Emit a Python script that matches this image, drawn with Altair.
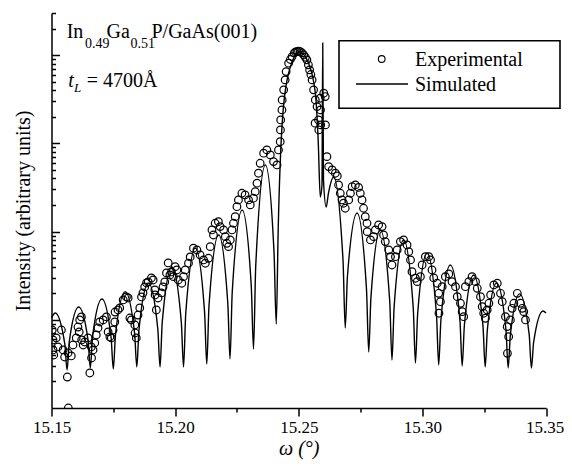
import altair as alt
import numpy as np
import pandas as pd

# ---- data (omega in degrees, intensity as log10) ----
sim_x = [15.1500, 15.1515, 15.1554,
         15.1563, 15.1572, 15.1610, 15.1648,
         15.1657, 15.1666, 15.1704, 15.1741,
         15.1750, 15.1759, 15.1798, 15.1836,
         15.1845, 15.1854, 15.1892, 15.1930,
         15.1939, 15.1948, 15.1987, 15.2025,
         15.2034, 15.2043, 15.2082, 15.2119,
         15.2128, 15.2137, 15.2176, 15.2213,
         15.2222, 15.2231, 15.2271, 15.2308,
         15.2317, 15.2326, 15.2365, 15.2400,
         15.2409, 15.2417, 15.2437, 15.2466, 15.2503, 15.2539, 15.2567, 15.2579,
         15.2587, 15.2594, 15.2597, 15.2600,
         15.2611, 15.2620, 15.2641, 15.2679,
         15.2688, 15.2697, 15.2736, 15.2774,
         15.2783, 15.2792, 15.2830, 15.2868,
         15.2877, 15.2886, 15.2924, 15.2963,
         15.2972, 15.2981, 15.3019, 15.3057,
         15.3066, 15.3075, 15.3113, 15.3152,
         15.3161, 15.3170, 15.3207, 15.3245,
         15.3254, 15.3263, 15.3300, 15.3338,
         15.3347, 15.3356, 15.3393, 15.3432,
         15.3441, 15.3450, 15.3488, 15.3500]
sim_log10 = [1.020, 1.077, 0.721,
             0.431, 0.753, 1.145, 0.765,
             0.454, 0.805, 1.236, 0.799,
             0.442, 0.837, 1.319, 0.849,
             0.465, 0.893, 1.417, 0.893,
             0.465, 0.975, 1.599, 0.975,
             0.465, 1.073, 1.814, 1.091,
             0.499, 1.156, 1.961, 1.188,
             0.556, 1.315, 2.245, 1.379,
             0.669, 1.608, 2.755, 1.764,
             0.952, 2.041, 3.379, 3.866, 4.036, 3.912, 3.571, 3.005,
             2.392, 2.528, 4.138, 2.585,
             2.279, 2.432, 2.619, 1.678,
             0.907, 1.494, 2.211, 1.345,
             0.635, 1.257, 2.018, 1.207,
             0.544, 1.156, 1.905, 1.138,
             0.510, 1.071, 1.757, 1.059,
             0.488, 0.998, 1.621, 0.992,
             0.476, 0.941, 1.508, 0.934,
             0.465, 0.893, 1.417, 0.888,
             0.454, 0.831, 1.293, 0.831,
             0.454, 0.745, 1.100, 1.077]

exp_x = [15.1503, 15.1506, 15.1506, 15.1509, 15.1519, 15.1526, 15.1540, 15.1547, 15.1553, 15.1564,
         15.1567, 15.1568, 15.1580, 15.1587, 15.1600, 15.1607, 15.1612, 15.1614, 15.1621, 15.1622,
         15.1628, 15.1634, 15.1648, 15.1655, 15.1661, 15.1662, 15.1668, 15.1675, 15.1681, 15.1688,
         15.1695, 15.1709, 15.1722, 15.1729, 15.1736, 15.1742, 15.1749, 15.1756, 15.1757, 15.1769,
         15.1776, 15.1790, 15.1803, 15.1810, 15.1817, 15.1823, 15.1837, 15.1838, 15.1843, 15.1850,
         15.1857, 15.1864, 15.1870, 15.1877, 15.1884, 15.1891, 15.1904, 15.1911, 15.1918, 15.1919,
         15.1924, 15.1931, 15.1945, 15.1951, 15.1958, 15.1965, 15.1972, 15.1979, 15.1985, 15.1993,
         15.2000, 15.2007, 15.2013, 15.2027, 15.2034, 15.2041, 15.2054, 15.2061, 15.2074, 15.2088,
         15.2101, 15.2115, 15.2122, 15.2135, 15.2142, 15.2149, 15.2155, 15.2162, 15.2175, 15.2182,
         15.2196, 15.2203, 15.2209, 15.2216, 15.2223, 15.2230, 15.2236, 15.2243, 15.2250, 15.2256,
         15.2270, 15.2283, 15.2297, 15.2304, 15.2317, 15.2324, 15.2331, 15.2337, 15.2344, 15.2358,
         15.2371, 15.2385, 15.2398, 15.2412, 15.2418, 15.2425, 15.2426, 15.2427, 15.2432, 15.2433,
         15.2439, 15.2445, 15.2449, 15.2459, 15.2466, 15.2473, 15.2482, 15.2487, 15.2493, 15.2499,
         15.2506, 15.2513, 15.2520, 15.2527, 15.2533, 15.2539, 15.2544, 15.2549, 15.2554, 15.2560,
         15.2567, 15.2566, 15.2574, 15.2580, 15.2581, 15.2587, 15.2588,
         15.2589, 15.2601, 15.2607, 15.2608, 15.2614, 15.2621, 15.2635, 15.2648, 15.2656, 15.2661,
         15.2668, 15.2675, 15.2681, 15.2688, 15.2702, 15.2709, 15.2716, 15.2729, 15.2742, 15.2749,
         15.2756, 15.2762, 15.2769, 15.2776, 15.2777, 15.2790, 15.2803, 15.2810, 15.2823, 15.2837,
         15.2843, 15.2850, 15.2864, 15.2871, 15.2877, 15.2891, 15.2898, 15.2911, 15.2924, 15.2938,
         15.2945, 15.2952, 15.2958, 15.2972, 15.2979, 15.2992, 15.2999, 15.3012, 15.3026, 15.3033,
         15.3039, 15.3046, 15.3060, 15.3066, 15.3067, 15.3073, 15.3080, 15.3093, 15.3107, 15.3120,
         15.3134, 15.3141, 15.3154, 15.3161, 15.3167, 15.3174, 15.3188, 15.3201, 15.3215, 15.3222,
         15.3235, 15.3242, 15.3248, 15.3255, 15.3262, 15.3269, 15.3276, 15.3289, 15.3303, 15.3316,
         15.3323, 15.3336, 15.3343, 15.3344, 15.3349, 15.3356, 15.3363, 15.3370, 15.3384, 15.3397,
         15.3404, 15.3410, 15.3417]
exp_log10 = [0.884, 0.771, 0.658, 0.601, 0.794, 0.692, 0.884, 0.658, 0.578, 0.351,
             0.624, 0.000, 0.590, 0.714, 0.794, 0.918, 0.862, 0.998, 1.032, 0.771,
             0.714, 0.748, 0.794, 0.397, 0.692, 0.567, 0.658, 0.737, 0.828, 0.907,
             0.975, 0.998, 1.032, 0.862, 0.805, 0.794, 0.884, 0.975, 1.088, 1.111,
             1.134, 1.225, 1.259, 1.247, 1.020, 0.998, 0.941, 0.850, 0.794, 1.054,
             1.134, 1.259, 1.304, 1.372, 1.417, 1.429, 1.474, 1.451, 1.338, 1.281,
             1.111, 1.247, 1.304, 1.372, 1.429, 1.531, 1.644, 1.508, 1.542, 1.489,
             1.602, 1.565, 1.451, 1.414, 1.489, 1.565, 1.641, 1.712, 1.811, 1.791,
             1.735, 1.678, 1.641, 1.697, 1.829, 2.018, 1.961, 2.094, 2.112, 2.056,
             2.018, 1.942, 1.867, 1.829, 1.905, 2.018, 2.094, 2.169, 2.282, 2.358,
             2.434, 2.415, 2.358, 2.302, 2.378, 2.452, 2.548, 2.661, 2.774, 2.888,
             2.925, 2.869, 2.793, 2.755, 2.925, 3.019, 3.152, 3.265, 3.379, 3.492,
             3.606, 3.719, 3.813, 3.908, 3.950, 3.983, 4.025, 4.035, 4.040, 4.045,
             4.040, 4.025, 4.002, 3.975, 3.946, 3.890, 3.832, 3.780, 3.719, 3.606,
             3.492, 3.228, 3.416, 3.265, 3.152, 3.511, 3.379,
             3.209, 3.568, 3.530, 3.209, 2.849, 2.736, 2.698, 2.661, 2.630, 2.528,
             2.434, 2.358, 2.321, 2.264, 2.358, 2.434, 2.509, 2.528, 2.500, 2.434,
             2.358, 2.264, 2.169, 2.094, 1.999, 1.905, 1.942, 2.018, 2.075, 2.056,
             1.961, 1.886, 1.791, 1.715, 1.621, 1.715, 1.791, 1.886, 1.905, 1.848,
             1.772, 1.678, 1.545, 1.471, 1.432, 1.489, 1.621, 1.715, 1.715, 1.678,
             1.565, 1.474, 1.414, 1.300, 1.074, 1.205, 1.375, 1.489, 1.519, 1.432,
             1.375, 1.262, 1.187, 1.092, 1.035, 1.375, 1.432, 1.489, 1.432, 1.357,
             1.262, 1.149, 1.074, 1.017, 1.111, 1.187, 1.281, 1.395, 1.414, 1.300,
             1.205, 1.035, 0.922, 0.620, 0.808, 0.998, 1.130, 1.187, 1.300, 1.187,
             1.130, 1.092, 0.998]

x_tick_values = [15.15, 15.175, 15.20, 15.225, 15.25, 15.275, 15.30, 15.325, 15.35]
y_tick_values = [2, 3, 4, 5, 6, 7, 8, 9, 10, 20, 30, 40, 50, 60, 70, 80, 90, 100,
                 200, 300, 400, 500, 600, 700, 800, 900, 1000, 2000, 3000, 4000, 5000,
                 6000, 7000, 8000, 9000, 10000, 20000, 30000]
legend_labels = ["Experimental", "Simulated"]

sim = pd.DataFrame({"omega": sim_x, "intensity": 10 ** np.array(sim_log10)})
exp = pd.DataFrame({"omega": exp_x, "intensity": 10 ** np.array(exp_log10)})
one = pd.DataFrame({"k": [0]})

FONT = "Liberation Serif"

x_scale = alt.Scale(domain=[15.15, 15.35], nice=False, zero=False)
y_scale = alt.Scale(type="log", domain=[1, 30000], nice=False)

major_x = "abs(datum.value*20 - round(datum.value*20)) < 0.001"
x_axis = alt.Axis(
    values=x_tick_values,
    title="ω (°)",
    titleFontStyle="italic",
    labelExpr=f"{major_x} ? format(datum.value, '.2f') : ''",
    labelFlush=False,
    labelOverlap=False,
    labelPadding=3,
    labelFontSize=17,
    labelOffset={"condition": {"test": "datum.value > 15.34", "value": -1.5}, "value": 0},
    titlePadding=3,
    tickSize={"condition": {"test": major_x, "value": 8}, "value": 4},
)
y_axis = alt.Axis(
    values=y_tick_values,
    labels=False,
    title="Intensity (arbitrary units)",
    titlePadding=17,
    tickSize={"condition": {"test": "indexof([10,100,1000,10000], datum.value) >= 0",
                            "value": -8}, "value": -4},
)

line = alt.Chart(sim).mark_line(color="black", strokeWidth=1.4, interpolate="monotone").encode(
    x=alt.X("omega:Q", scale=x_scale, axis=x_axis),
    y=alt.Y("intensity:Q", scale=y_scale, axis=y_axis),
)
points = alt.Chart(exp).mark_point(shape="circle", filled=False, color="black",
                                   size=58, strokeWidth=1.2, opacity=1, clip=True).encode(
    x=alt.X("omega:Q", scale=x_scale),
    y=alt.Y("intensity:Q", scale=y_scale),
)


def txt(s, x, y, size=20, style="normal"):
    return alt.Chart(one).mark_text(text=s, font=FONT, fontSize=size, fontStyle=style,
                                    align="left", baseline="alphabetic", color="black").encode(
        x=alt.value(x), y=alt.value(y))


annot = [
    txt("In", 15.2, 25.3),
    txt("0.49", 33.5, 35.0, size=14),
    txt("Ga", 55.0, 25.3),
    txt("0.51", 79.0, 35.0, size=14),
    txt("P/GaAs(001)", 100.0, 25.3),
    txt("t", 16.8, 73.7, style="italic"),
    txt("L", 22.5, 78.5, size=13, style="italic"),
    txt("= 4700Å", 35.2, 73.7),
]

legend_box = alt.Chart(one).mark_rect(fill="white", stroke="black", strokeWidth=1.6).encode(
    x=alt.value(287.5), x2=alt.value(508.5), y=alt.value(27.7), y2=alt.value(95.3))
legend_circle = alt.Chart(one).mark_point(shape="circle", filled=False, color="black",
                                          size=45, strokeWidth=1.1, opacity=1).encode(
    x=alt.value(330.2), y=alt.value(46.0))
legend_line = alt.Chart(one).mark_rule(color="black", strokeWidth=1.4).encode(
    x=alt.value(304.5), x2=alt.value(356.5), y=alt.value(71))
legend_txt = [txt(legend_labels[0], 363.5, 53), txt(legend_labels[1], 363.5, 77.7)]

chart = alt.layer(line, points, *annot, legend_box, legend_circle, legend_line, *legend_txt).properties(
    width=494.5, height=395,
    autosize=alt.AutoSizeParams(type="none"),
    padding={"left": 43.5, "top": 5, "right": 18, "bottom": 55},
).configure_view(strokeWidth=0).configure_axis(
    labelFont=FONT, titleFont=FONT, labelColor="black", titleColor="black",
    labelFontSize=18, titleFontSize=20, titleFontWeight="normal",
    domainColor="black", tickColor="black", domainWidth=1.5, tickWidth=1.5, grid=False,
)

chart.save("out.html", embed_options={"renderer": "svg", "actions": False})
